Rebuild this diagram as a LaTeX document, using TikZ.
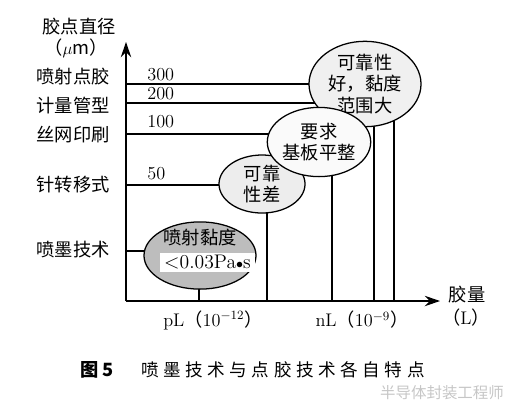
\documentclass[tikz,border=0pt]{standalone}
\usepackage{fontspec}
\newfontfamily\cjk{Noto Sans CJK SC}
\newfontfamily\cjkcap[LetterSpace=26]{Noto Sans CJK SC}
\usetikzlibrary{arrows.meta, positioning, shapes.geometric}

\begin{document}
\begin{tikzpicture}[x=0.025cm, y=-0.025cm, >={Stealth[length=0.38cm,width=0.26cm]}, line width=0.9pt,
    blob/.style={draw, ellipse, inner sep=0pt, align=center, font=\fontsize{13}{15.5}\selectfont\cjk},
    lbl/.style={font=\fontsize{13}{15}\selectfont\cjk},
    num/.style={anchor=west, font=\fontsize{13}{15}\selectfont}]
    \useasboundingbox (0,0) rectangle (531,417);

    % Axes
    \coordinate (o) at (126,301);
    \coordinate (ytop) at (126,42);
    \coordinate (xend) at (440,301);
    \draw[->] (o) -- (ytop);
    \draw[->] (o) -- (xend);

    % Level lines
    \coordinate (d300) at (126,84);   \coordinate (v300) at (394,301);
    \coordinate (d200) at (126,103);  \coordinate (v200) at (374,301);
    \coordinate (d100) at (126,134);  \coordinate (v100) at (332,301);
    \coordinate (d50) at (126,185);   \coordinate (v50) at (267,301);
    \coordinate (dink) at (126,251);  \coordinate (vink) at (199,301);
    \draw (d300) -| (v300);
    \draw (d200) -| (v200);
    \draw (d100) -| (v100);
    \draw (d50) -| (v50);
    \draw (dink) -| (vink);

    % Ellipses
    \node[blob, fill=gray!12, minimum width=2.8cm, minimum height=1.88cm] (wide) at (365,84) {可靠性\\好，黏度\\范围大};
    \node[blob, fill=gray!52, minimum width=2.8cm, minimum height=1.68cm] (ink) at (200,255.5) {};
    \node[blob, fill=gray!14, minimum width=2.15cm, minimum height=1.45cm] (poor) at (262,184) {可靠\\性差};
    \node[blob, fill=gray!4, minimum width=2.58cm, minimum height=1.73cm] (flat) at (319,142) {要求\\基板平整};
    \node[lbl] (inkname) at (200,238) {喷射黏度};
    \node[fill=white, inner sep=0pt, minimum width=2.38cm, minimum height=0.48cm, font=\fontsize{14}{16}\selectfont] (inkval) at (207.5,262.5) {$<$0.03Pa$\scriptstyle\bullet$s};

    % Left labels
    \node[lbl] (ytitle) at (79,27) {胶点直径};
    \node[lbl] (yunit) at (76,48) {（$\mu$m）};
    \node[lbl] (jet) at (73,77) {喷射点胶};
    \node[lbl] (meter) at (73,106) {计量管型};
    \node[lbl] (screen) at (73,135) {丝网印刷};
    \node[lbl] (pin) at (73,185) {针转移式};
    \node[lbl] (inkjet) at (73,250) {喷墨技术};

    % Values
    \node[num] (n300) at (142,75) {300};
    \node[num] (n200) at (142,94) {200};
    \node[num] (n100) at (142,122) {100};
    \node[num] (n50) at (142,174) {50};

    % Volume labels
    \node[lbl] (pl) at (213,320) {\fontspec{Latin Modern Roman}pL{\cjk （}10$^{-12}${\cjk ）}};
    \node[lbl] (nl) at (362,320) {\fontspec{Latin Modern Roman}nL{\cjk （}10$^{-9}${\cjk ）}};
    \node[lbl] (xtitle) at (467,295) {胶量};
    \node[lbl] (xunit) at (466,318) {（\fontspec{Latin Modern Roman}L\cjk ）};

    % Caption
    \node[font=\fontsize{13}{15}\selectfont\cjk\bfseries] (capnum) at (97,370) {图 5};
    \node[font=\fontsize{12.5}{15}\selectfont\cjkcap, right=0.42cm of capnum] (captext) {喷墨技术与点胶技术各自特点};
    \node[font=\fontsize{11}{13}\selectfont\cjk, text=gray!45] (mark) at (442,393) {半导体封装工程师};
\end{tikzpicture}
\end{document}
